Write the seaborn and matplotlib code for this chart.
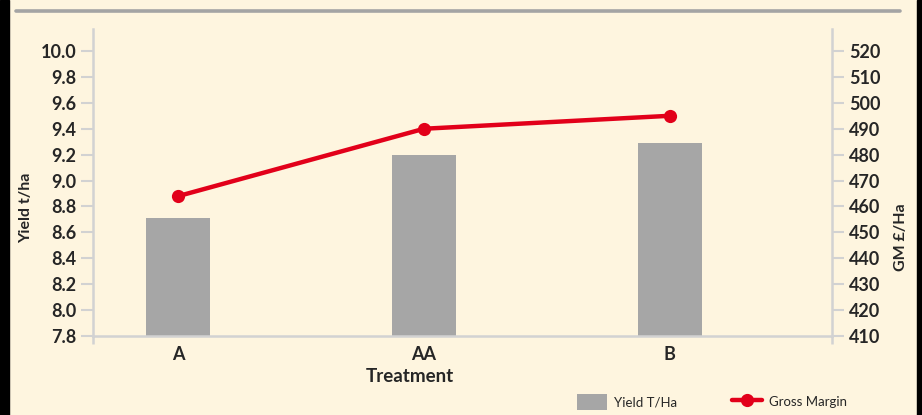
import numpy as np
import pandas as pd
import matplotlib
matplotlib.use('Agg')
import matplotlib.pyplot as plt
from matplotlib.patches import Patch, Rectangle
from matplotlib.lines import Line2D
import seaborn as sns

# values
treatments = ['A', 'AA', 'B']
yield_t_ha = [8.71, 9.20, 9.29]
gross_margin = [464, 490, 495]

yield_ticks = [7.8, 8.0, 8.2, 8.4, 8.6, 8.8, 9.0, 9.2, 9.4, 9.6, 9.8, 10.0]
gm_ticks = [410, 420, 430, 440, 450, 460, 470, 480, 490, 500, 510, 520]

df = pd.DataFrame({'Treatment': treatments, 'Yield': yield_t_ha, 'GM': gross_margin})

sns.set_style('white')
plt.rcParams['font.family'] = ['Lato', 'DejaVu Sans']

bg = '#FEF5DF'
spine_col = '#D2D2D2'
bar_col = '#A6A6A6'
red = '#E2001A'

fig = plt.figure(figsize=(9.22, 4.15), dpi=100, facecolor=bg)
ax = fig.add_axes([93 / 922, 1 - 336 / 415, (832 - 93) / 922, (336 - 29) / 415])
ax.set_facecolor(bg)

sns.barplot(data=df, x='Treatment', y='Yield', color=bar_col, saturation=1,
            width=0.26, linewidth=0, edgecolor='none', ax=ax)

ax2 = ax.twinx()
sns.lineplot(data=df, x='Treatment', y='GM', color=red, lw=3.2, marker='o',
             markersize=9.5, markeredgewidth=0, ax=ax2)

ax.set_ylim(7.8, 10.17)
ax2.set_ylim(410, 528.5)
ax.set_xlim(-0.347, 2.66)

ax.set_yticks(yield_ticks)
ax.set_yticklabels([f'{v:.1f}' for v in yield_ticks])
ax2.set_yticks(gm_ticks)
ax2.set_yticklabels([str(v) for v in gm_ticks])

for s in ['top', 'right']:
    ax.spines[s].set_visible(False)
for s in ['left', 'bottom']:
    ax.spines[s].set_color(spine_col)
    ax.spines[s].set_linewidth(1.8)
for s in ['top', 'left', 'bottom']:
    ax2.spines[s].set_visible(False)
ax2.spines['right'].set_color(spine_col)
ax2.spines['right'].set_linewidth(1.8)

ax.tick_params(axis='y', length=8.6, width=1.5, color=spine_col, pad=3.5,
               labelsize=13, left=True)
ax2.tick_params(axis='y', length=8.6, width=1.5, color=spine_col, pad=3.5,
                labelsize=13, right=True)
ax.tick_params(axis='x', which='major', length=0, pad=7, labelsize=13)
ax.set_xticks([-0.347, 2.66], minor=True)
ax.tick_params(axis='x', which='minor', length=6, width=1.8, color=spine_col,
               bottom=True)
for lab in ax.get_yticklabels() + ax2.get_yticklabels() + ax.get_xticklabels():
    lab.set_fontweight('bold')

ax.set_xlabel('Treatment', fontsize=13.5, fontweight='bold')
ax.xaxis.set_label_coords((410 - 93) / 739, -0.105)
ax.set_ylabel('Yield t/ha', fontsize=11.5, fontweight='bold')
ax.yaxis.set_label_coords(-0.0805, 0.417)
ax2.set_ylabel('GM £/Ha', fontsize=11.5, fontweight='bold')
ax2.yaxis.set_label_coords(1.084, 0.322)

handles = [Patch(facecolor=bar_col, edgecolor='none'),
           Line2D([0], [0], color=red, lw=3.2, marker='o', markersize=9.5,
                  markeredgewidth=0)]
fig.legend(handles, ['Yield T/Ha', 'Gross Margin'], loc='center',
           bbox_to_anchor=(0.772, 0.031), ncol=2, frameon=False,
           handlelength=2.3, handleheight=1.5, handletextpad=0.5,
           columnspacing=4.2, prop={'size': 9.5})

# frame decoration: top rule and dark side strips
fig.add_artist(Line2D([16 / 922, 900 / 922], [1 - 11 / 415] * 2, color='#A4A4A4',
                      lw=2.6, transform=fig.transFigure))
fig.add_artist(Rectangle((0, 0), 9 / 922, 1, color='black', transform=fig.transFigure))
fig.add_artist(Rectangle((917 / 922, 0), 5 / 922, 1, color='black', transform=fig.transFigure))

fig.savefig('out.png', dpi=100, facecolor=bg)
